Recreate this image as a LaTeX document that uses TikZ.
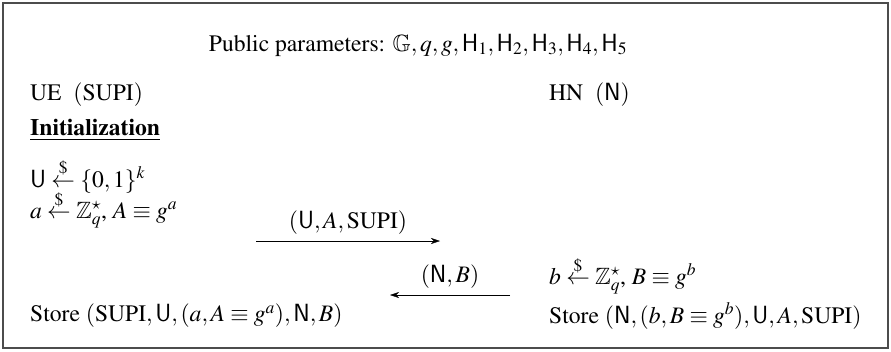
\documentclass[tikz,border=0pt]{standalone}
\usepackage[T1]{fontenc}
\usepackage{amssymb}
\usepackage{mathptmx}
\usepackage[scaled=0.92]{helvet}
\usetikzlibrary{arrows.meta}

\newcommand{\rnd}{\stackrel{\$}{\leftarrow}}
\tikzset{txt/.style={anchor=west, inner sep=0pt, font=\fontsize{23.6}{28}\selectfont}}

\begin{document}
\begin{tikzpicture}[x=1pt, y=-1pt, >={Stealth[length=9pt,width=6pt]}]
  \useasboundingbox (0,0) rectangle (891,351);
  \draw[black!70, line width=1.3pt] (3,3) rectangle (888,348);
  \node[txt, anchor=center] (pub) at (418,45) {Public parameters: $\mathbb{G},q,g,\mathsf{H}_1,\mathsf{H}_2,\mathsf{H}_3,\mathsf{H}_4,\mathsf{H}_5$};
  \node[txt] (ue) at (30,95) {UE~~$(\mathrm{SUPI})$};
  \node[txt] (hn) at (549,95) {HN~~$(\mathsf{N})$};
  \node[txt] (init) at (30,130) {\textbf{\underline{Initialization}}};
  \node[txt] (u) at (30,176) {$\mathsf{U}\rnd\{0,1\}^k$};
  \node[txt] (a) at (30,209) {$a\rnd\mathbb{Z}_q^\star$, $A\equiv g^a$};
  \node[txt] (b) at (549,275) {$b\rnd\mathbb{Z}_q^\star$, $B\equiv g^b$};
  \node[txt] (sue) at (30,316) {Store $(\mathrm{SUPI},\mathsf{U},(a,A\equiv g^a),\mathsf{N},B)$};
  \node[txt] (shn) at (549,316) {Store $(\mathsf{N},(b,B\equiv g^b),\mathsf{U},A,\mathrm{SUPI})$};
  % messages
  \coordinate (m1s) at (256,241);
  \coordinate (m1e) at (440,241);
  \coordinate (m2s) at (510,295);
  \coordinate (m2e) at (390,295);
  \draw[->] (m1s) -- (m1e) node[midway, above=6pt, txt, anchor=south] (l1) {$(\mathsf{U},A,\mathrm{SUPI})$};
  \draw[->] (m2s) -- (m2e) node[midway, above=6pt, txt, anchor=south] (l2) {$(\mathsf{N},B)$};
\end{tikzpicture}
\end{document}
